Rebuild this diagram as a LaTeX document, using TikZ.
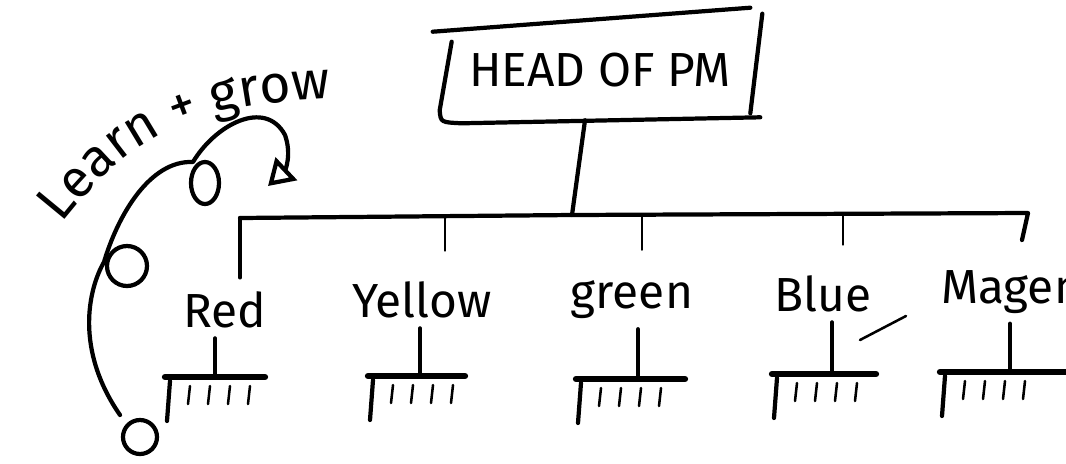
\documentclass[tikz,border=0pt]{standalone}
\usepackage{fontspec}
\setmainfont{Fira Sans}
\usetikzlibrary{positioning,arrows.meta,decorations.text}

\begin{document}
\begin{tikzpicture}[
		x=0.025cm,
		y=-0.025cm,
		pen/.style={line width=3pt,line cap=round,line join=round},
		thinpen/.style={line width=1.8pt,line cap=round},
		barpen/.style={line width=4.5pt,line cap=round},
		team/.style={font=\fontsize{34}{36}\selectfont,inner sep=2pt},
	]
		\useasboundingbox (0,0) rectangle (1066,463);
		
		% head of the tree
		\node[font=\fontsize{34}{36}\selectfont,minimum width=7.8cm,minimum height=2.5cm] (head) at (600,70) {HEAD OF PM};
		\draw[pen] ([shift={(-11,12)}]head.north west) -- ([shift={(-6,-12)}]head.north east);
		\draw[pen] ([shift={(8,22)}]head.north west) -- ([shift={(-4,-10)}]head.south west)
			.. controls ([shift={(-3,2)}]head.south west) .. ([shift={(18,3)}]head.south west)
			-- ([shift={(4,-3)}]head.south east);
		\draw[pen] ([shift={(6,-6)}]head.north east) -- ([shift={(-6,-7)}]head.south east);
		
		% bus
		\coordinate (hub) at (572,215);
		\coordinate (busL) at (240,218);
		\coordinate (busR) at (1028,213);
		\coordinate (magdrop) at (1022,240);
		\draw[pen] ([shift={(-15,0)}]head.south) -- (hub);
		\draw[pen] (busL) -- (hub) -- (busR) -- (magdrop);
		
		% teams
		\node[team] (red) at (225,310) {Red};
		\node[team] (yellow) at (422,300) {Yellow};
		\node[team] (green) at (632,300) {green};
		\node[team] (blue) at (823,294) {Blue};
		\node[team,anchor=west] (magenta) at (938,292) {Magenta};
		
		\draw[pen,shorten >=8pt] (busL) -- (busL |- red.north);
		\foreach \n/\x in {yellow/445, green/642, blue/843}{
			\draw[thinpen,shorten >=20pt] (\x,216) -- (\x,216 |- \n.north);
		}
		
		\foreach \n/\bx/\by/\l/\r in {red/215/377/50/50, yellow/420/376/52/45, green/638/379/62/47, blue/832/374/60/44, magenta/1010/372/70/60}{
			\coordinate (\n bar) at (\bx,\by);
			\draw[pen,shorten <=5pt] (\n.south -| \n bar) -- (\n bar);
			\draw[barpen] ([shift={(-\l,0)}]\n bar) -- ([shift={(\r,0)}]\n bar);
			\draw[pen] ([shift={(-\l+5,4)}]\n bar) -- ++(-3,40);
			\foreach \t in {25,45,65,85}
				\draw[thinpen] ([shift={(-\l+\t,9)}]\n bar) -- ++(-2,18);
		}
		\draw[thinpen] (860,340) -- (906,316);
		
		% learn + grow loop
		\path[decorate,decoration={text along path,text align=center,
			text={|\fontsize{38}{40}\selectfont|Learn + grow}}]
			(52,236) .. controls (122,146) and (172,102) .. (346,98);
		\draw[pen,-{Triangle[open,length=18pt,width=22pt]}] (120,415)
			.. controls (75,350) and (88,290) .. (104,262)
			.. controls (118,215) and (150,160) .. (193,162)
			.. controls (215,125) and (265,98) .. (285,135)
			.. controls (292,155) and (285,170) .. (268,186);
		\draw[pen] (127,266) circle[radius=20];
		\draw[pen] (205,183) ellipse[x radius=14,y radius=21];
		\draw[pen] (140,437) circle[radius=17];
\end{tikzpicture}
\end{document}
